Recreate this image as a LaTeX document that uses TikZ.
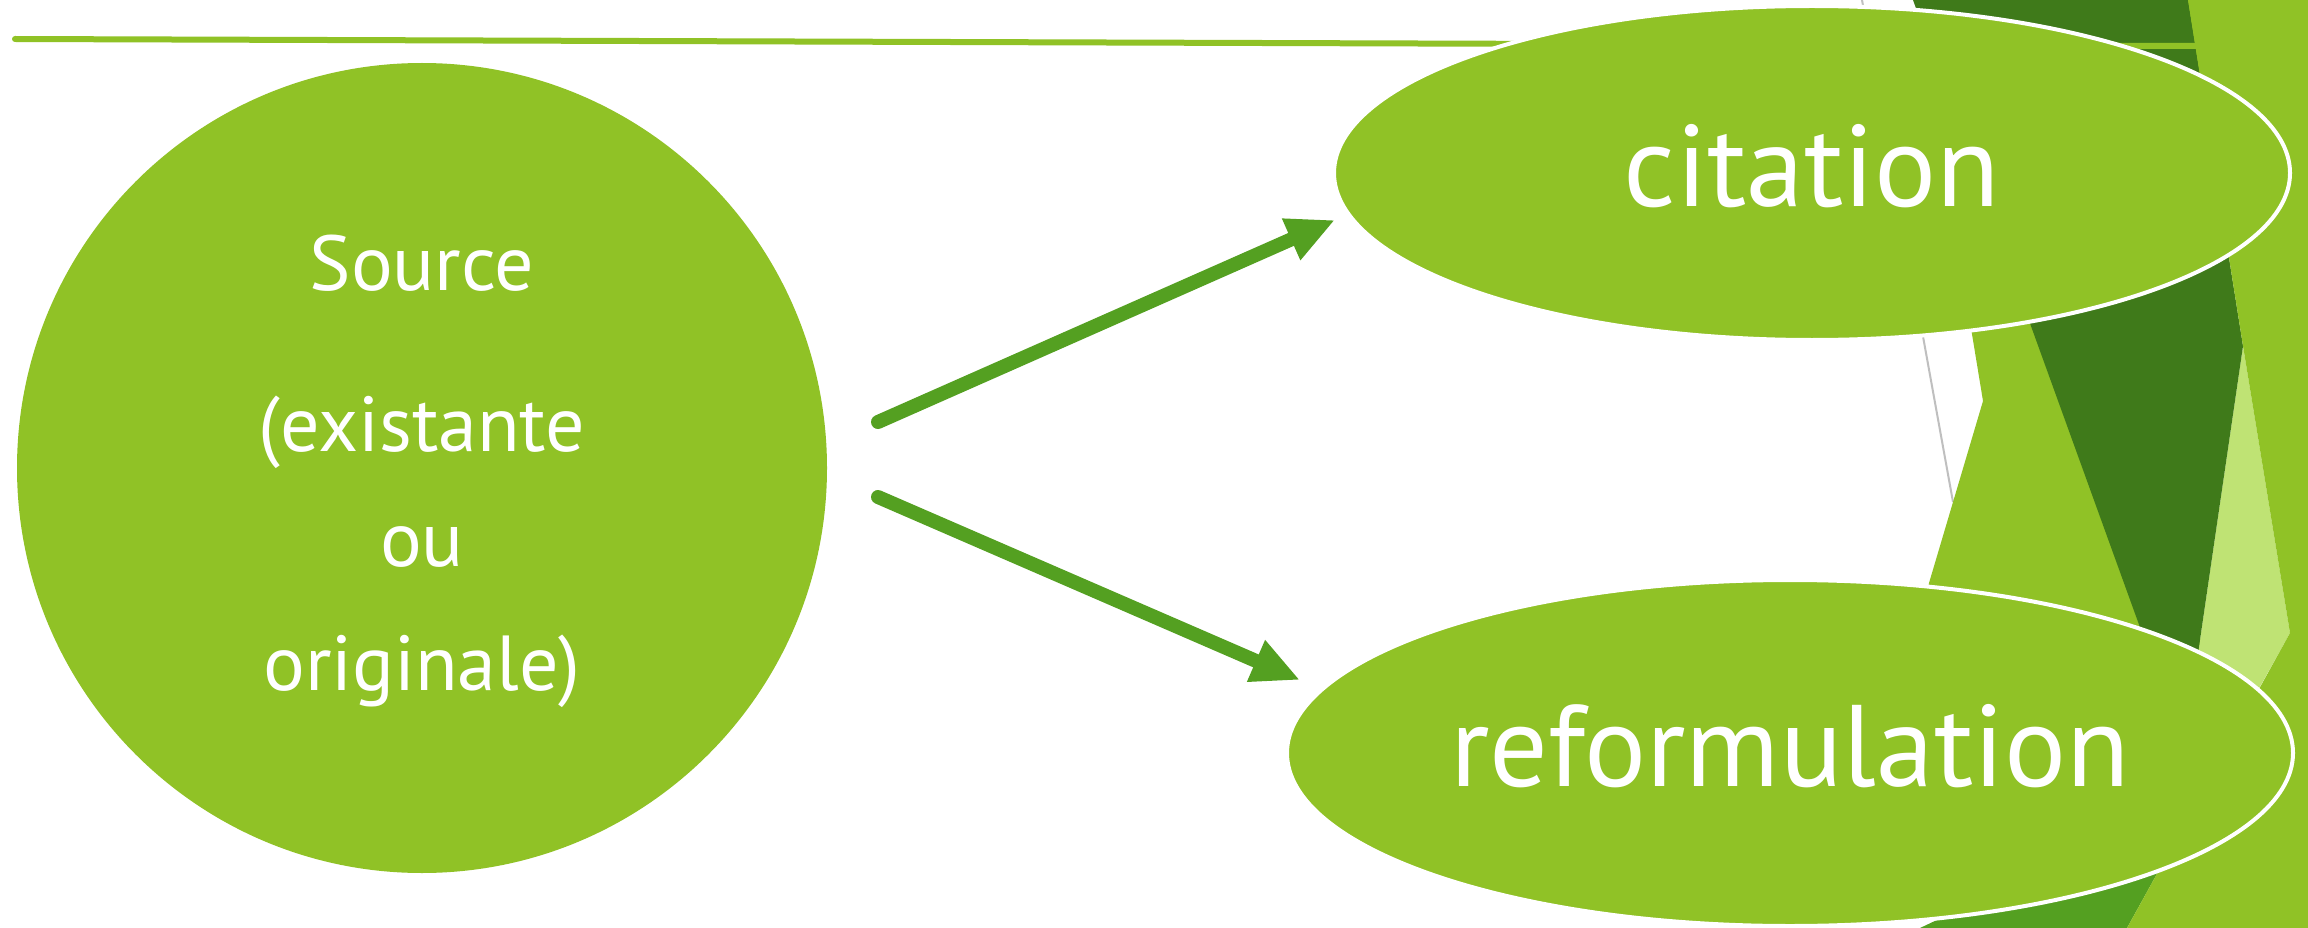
\documentclass[tikz,border=0pt]{standalone}
\usepackage{fontspec}
\setmainfont{PT Sans}
\usetikzlibrary{shapes.geometric,arrows.meta}
\definecolor{facetgreen}{HTML}{90C226}
\definecolor{facetdark}{HTML}{3F7A1A}
\definecolor{facetmid}{HTML}{54A021}
\definecolor{facetpale}{HTML}{BFE374}
\definecolor{facetgray}{HTML}{BFBFBF}

\begin{document}
\begin{tikzpicture}[
  x=1pt, y=-1pt,
  source_disc/.style={circle, minimum size=810pt, inner sep=0pt, fill=facetgreen},
  leaf/.style={ellipse, minimum width=956pt, minimum height=334pt, inner sep=0pt, text depth=16pt, fill=facetgreen, draw=white, line width=4pt, text=white, font=\fontsize{116}{139}\selectfont},
  src_line/.style={anchor=base, inner sep=0pt, text=white, font=\fontsize{78}{94}\selectfont},
  branch/.style={draw=facetmid, line width=14pt, line cap=round, -{Triangle[length=48pt,width=42pt]}},
]
\useasboundingbox (0,0) rectangle (2308,928);
\fill[white] (0,0) rectangle (2308,928);

% facet background
\draw[facetgray, line width=2pt] (1862,0) -- (1953,502);
\fill[facetgreen] (1917,0) -- (1983,401) -- (1929,583) -- (1900,760) -- (2200,760) -- (2200,0) -- cycle;
\fill[facetpale] (2243,346) -- (2290,633) -- (2230,740) -- (2184,749) -- cycle;
\fill[facetdark] (1913,0) -- (2188,0) -- (2243,346) -- (2184,749) -- cycle;
\fill[facetmid] (1920,928) -- (2127,928) -- (2200,796) -- cycle;
\draw[facetgreen, line width=6pt, line cap=round] (15,39) -- (2196,46);
\fill[facetgreen] (2188,0) -- (2243,346) -- (2290,633) -- (2127,928) -- (2308,928) -- (2308,0) -- cycle;

\draw (422,468) node (src) [source_disc] {};
\draw (1812,173) node (cit) [leaf] {citation};
\draw (1790,753) node (reform) [leaf, minimum width=1006pt, minimum height=346pt] {reformulation};

\draw (422,290) node (src_a) [src_line] {Source};
\draw (422,451) node (src_b) [src_line] {(existante};
\draw (422,566) node (src_c) [src_line] {ou};
\draw (422,690) node (src_d) [src_line] {originale)};

\coordinate (up_from) at (878,422);
\coordinate (up_to) at (1335,220);
\coordinate (down_from) at (878,497);
\coordinate (down_to) at (1300,680);
\draw [branch] (up_from) -- (up_to);
\draw [branch] (down_from) -- (down_to);
\end{tikzpicture}
\end{document}
